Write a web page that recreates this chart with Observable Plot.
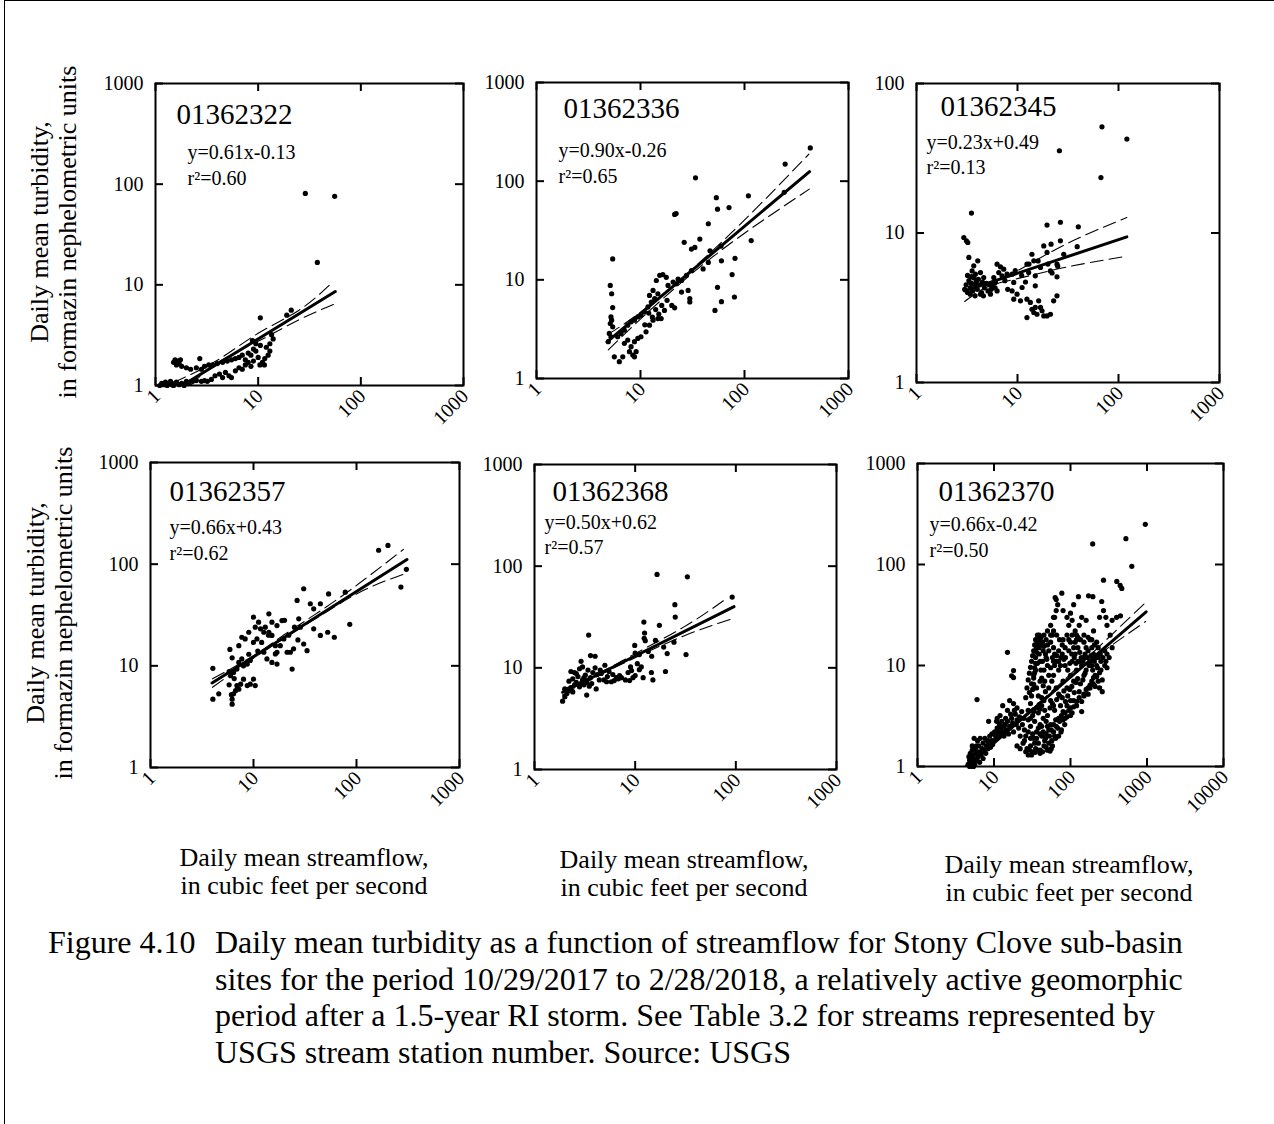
<!DOCTYPE html>
<html><head><meta charset="utf-8">
<script src="https://cdn.jsdelivr.net/npm/d3@7"></script>
<script src="https://cdn.jsdelivr.net/npm/@observablehq/plot@0.6"></script>
<style>
html,body{margin:0;padding:0;background:#fff;}
#page{position:relative;width:1274px;height:1124px;overflow:hidden;font-family:"Liberation Serif","Times New Roman",serif;color:#000;background:#fff;}
.border{position:absolute;left:4px;top:0;width:1270px;height:1124px;border-left:1.5px solid #000;border-top:1.5px solid #000;box-sizing:border-box;}
.ytitle{position:absolute;transform:translate(-50%,-50%) rotate(-90deg);white-space:nowrap;text-align:center;font-size:26px;line-height:28px;}
.xtitle{position:absolute;transform:translate(-50%,-50%);white-space:nowrap;text-align:center;font-size:26px;line-height:28px;}
.figlabel{position:absolute;left:48px;top:924px;font-size:32px;line-height:36.7px;white-space:nowrap;}
.captext{position:absolute;left:215px;top:924px;font-size:32px;line-height:36.7px;white-space:nowrap;}
</style>
</head><body>
<div id="page"><div class="border"></div></div>
<script>
// ---------- data ----------
const stations = ["01362322","01362336","01362345","01362357","01362368","01362370"];
const equations = ["y=0.61x-0.13","y=0.90x-0.26","y=0.23x+0.49","y=0.66x+0.43","y=0.50x+0.62","y=0.66x-0.42"];
const rSquared = ["r\u00B2=0.60","r\u00B2=0.65","r\u00B2=0.13","r\u00B2=0.62","r\u00B2=0.57","r\u00B2=0.50"];
const ticks100 = [1,10,100];
const ticks1000 = [1,10,100,1000];
const ticks10000 = [1,10,100,1000,10000];
const yTitle = ["Daily mean turbidity,","in formazin nephelometric units"];
const xTitle = ["Daily mean streamflow,","in cubic feet per second"];
const figLabel = "Figure 4.10";
const captionLines = [
  "Daily mean turbidity as a function of streamflow for Stony Clove sub-basin",
  "sites for the period 10/29/2017 to 2/28/2018, a relatively active geomorphic",
  "period after a 1.5-year RI storm. See Table 3.2 for streams represented by",
  "USGS stream station number. Source: USGS"
];

// points: [streamflow, turbidity]
const pts01362322 = [[1.1,1.0],[1.15,1.05],[1.2,1.02],[1.25,1.08],[1.3,1.0],[1.35,1.05],[1.4,1.1],[1.45,1.02],[1.5,1.0],[1.55,1.05],[1.6,1.08],[1.7,1.02],[1.8,1.05],[1.9,1.0],[2.0,1.1],[2.1,1.05],[2.3,1.1],[2.5,1.12],[2.8,1.1],[3.0,1.12],[3.2,1.1],[3.5,1.15],
[1.5,1.7],[1.55,1.8],[1.6,1.6],[1.65,1.75],[1.7,1.65],[1.75,1.8],[1.8,1.55],[2.0,1.5],[2.2,1.45],[2.5,1.5],[2.7,1.85],[2.8,1.45],[3.0,1.55],[3.3,1.6],[3.6,1.6],[4.0,1.65],[4.5,1.7],[5.0,1.75],[5.5,1.8],[6.0,1.85],
[3.8,1.25],[4.2,1.3],[4.5,1.2],[4.8,1.35],[5.2,1.25],[5.5,1.2],[6.0,1.4],[6.5,1.5],[7.0,1.45],[7.5,1.6],[8.0,1.7],[8.5,1.55],[9.0,1.75],
[6.5,1.9],[7,2.0],[7.5,1.8],[8,2.1],[8.5,2.0],[9,2.3],[9.5,2.2],[10,1.9],[10.5,2.5],[11,1.7],[11.5,1.6],[12,2.4],[12.5,2.0],[13,2.6],[13,2.2],[13.5,3.2],[14,2.9],[10.4,1.6],[11.6,1.85],[9.5,2.6],[8.8,2.8],
[10.5,4.7],[19,5.0],[21,5.6],[28.8,81],[55.6,75.7],[37.7,16.7]];
const pts01362336 = [[5.4,16.3],[5.12,8.77],[5.28,7.23],[5.4,5.23],[5.2,4.21],[5.28,3.9],[5.12,3.61],[5.4,3.34],[5.01,2.86],[4.9,2.36],[5.2,2.65],[5.6,1.66],[6.26,1.48],[6.75,1.66],[7.83,1.87],[8.43,1.73],[9.08,1.87],[8.75,1.66],
[6.03,2.65],[6.5,2.86],[7.0,3.09],[7.54,3.47],[8.12,3.75],[8.75,3.9],[9.42,4.21],[10.1,4.37],[10.9,4.72],[11.8,5.31],[12.7,5.96],[13.7,6.44],
[7.0,2.27],[7.54,2.45],[8.12,2.1],[8.75,2.36],[9.42,2.55],[10.1,2.65],[11.3,2.97],[12.2,3.47],[13.2,3.9],[14.7,4.05],[15.8,4.05],
[12.2,6.95],[13.2,7.81],[14.2,9.84],[15.3,11.1],[16.4,11.3],[17.7,10.6],[14.7,7.23],[18.4,8.77],[20.6,9.48],[23,10.2],[17,4.9],[21.3,5.2],
[22.1,9.12],[24.8,9.84],[27.7,11.1],[30.9,12.4],[24.8,7.52],[28.7,7.81],[29.8,6.44],[29.8,5.96],[21.3,46],[22,47],[26.3,24],[30.9,20.5],[33.3,21.3],[37.2,25.9],
[33.8,108],[44.9,37],[46.6,19.7],[53.6,68],[55,52],[71,54],[109,71],[116,25],[246,149],[52,4.9],[60,6],[60,15.6],[55,8.4],[76,11.3],[81,16.5],[80,6.7],[40,12.9],[44.9,15],[59.5,22],[241,77],[429,217],
[12,4.6],[14,5.0],[16,5.5],[18,6.2],[20,5.5],[15,4.5],[11,3.5],[13,4.2]];
const pts01362345 = [[3.5,13.6],[2.94,9.33],[3.12,8.87],[3.22,8.64],[3.3,6.86],[4.04,6.51],[3.69,6.03],[3.55,5.58],[3.83,5.3],[4.3,5.44],[4.63,5.04],
[3.0,4.2],[3.1,4.5],[3.2,4.0],[3.3,4.8],[3.4,4.3],[3.5,4.6],[3.6,4.1],[3.7,5.0],[3.8,4.4],[3.9,4.7],[4.0,4.2],[4.1,4.9],[4.2,4.5],[4.4,4.0],[4.5,4.7],[4.7,4.3],[4.9,4.6],[5.1,4.1],[5.3,4.5],[3.2,5.2],[3.5,5.1],[3.4,3.9],[3.8,3.8],[4.3,3.9],[4.6,3.8],[5.5,4.2],[5.8,4.6],[6.0,4.3],
[6.28,6.19],[6.78,5.94],[7.31,5.73],[6.52,5.44],[7.03,5.17],[7.88,5.3],[5.82,5.04],[6.04,4.67],[5.6,4.32],[6.28,4.1],[5.4,3.9],[8.84,5.3],[9.18,4.67],[8.84,4.1],[9.18,3.61],[10.7,3.52],[11.1,4.32],[9.9,3.9],
[12.4,6.19],[12.9,5.44],[13.9,7.21],[14.5,6.51],[15,5.17],[15,4.43],[16.9,5.88],[12.4,3.61],[13.4,3.43],[13.9,3.09],[15,3.18],[16.2,3.52],[16.9,3.18],[17.5,3.02],[18.2,2.79],[12.4,2.72],[14.5,2.94],[19.6,2.79],[21.2,2.86],[22.8,3.52],[24.6,3.8],[15.6,2.86],
[18.2,8.2],[19.6,7.41],[21.5,8.42],[19.6,11.3],[26.6,11.8],[26.6,8.87],[28.7,7.21],[24.6,6.19],[21.2,5.58],[24.6,5.09],[40,11],[39,8.1],[26,35.5],[68.6,51.3],[67,23.5],[121,42.5],
[7.5,4.8],[8,4.2],[9.5,5.6],[11,5.2],[12,4.7],[13,6.2],[16,6.5],[20,6.2],[22,5.4],[25,6.0]];
const pts01362357 = [[6.2,4.2],[6.2,4.7],[6.4,5.3],[6.7,5.7],[6.9,6.4],[7.2,5.9],[7.5,6.6],[8.0,7.4],[8.7,6.4],[9.3,6.6],[10.4,6.4],[10.0,7.4],[6.0,8.0],[6.4,8.6],[6.9,9.3],[7.2,10.8],[7.7,11.7],[8.0,10],[8.7,10.4],[9.3,11.3],
[7.2,15.8],[7.7,19.1],[8.3,18.4],[9.0,21.4],[10,30.1],[10.4,24],[11.2,26.9],[11.7,23.1],[10.8,18.4],[12.6,21.4],[13.0,24],[14.1,32.5],[15.1,26.9],[16.9,24.9],[14.1,21.4],[15.1,19.9],[16.3,15.8],[16.9,13.6],[12.6,13.6],[13.5,11.7],[15.1,10.8],[16.9,10.4],[16.3,13.1],[18.2,15.8],[19.7,18.4],[18.9,27.9],[21.2,13.6],[23.7,9.3],[22.8,13.6],[24.5,14.7],
[26.5,44],[30.7,57.3],[27.5,29],[28.5,24],[30.7,16.4],[33.1,14.1],[35.6,40.8],[38.4,36.4],[44.6,40.8],[38.4,23.1],[44.6,19.9],[52.5,21.4],[60.9,19.1],[53.6,51],[77.8,53],[86,25.6],[164,137],[202,153],[305,89],[270,59.5],
[5.9,14.5],[4.03,9.46],[4.03,4.7],[4.6,5.3],[6.2,12],[5.8,8.8],[6.5,7.5],[7,6],[6.1,5.2],[5.8,6.5],[20,28],[22,20],[25,24],[27,18],[12,17],[14,20],[10,17],[9,13],[11,14]];
const pts01362368 = [[1.9,4.7],[2.0,5.2],[2.1,5.6],[2.2,6.0],[2.3,6.4],[2.4,5.8],[2.5,6.8],[2.6,7.2],[2.5,9.0],[2.7,8.2],[2.8,6.5],[2.9,7.0],[3.0,7.6],[3.1,6.8],[3.2,8.5],[3.3,7.2],[3.5,6.6],[3.3,5.4],[3.6,8.0],[3.8,9.0],[4.0,10.0],[4.2,8.6],[4.4,7.6],[4.6,8.8],[4.9,7.6],[5.3,8.2],[5.8,7.3],[6.2,7.5],[6.8,7.8],[7.3,8.0],[8.0,7.6],[8.8,7.5],[9.5,8.0],[10,8.4],
[3.45,21],[3.6,13.2],[4.0,13.0],[2.9,11.6],[2.3,9.2],[2.6,8.8],[2.2,7.4],[2.0,6.2],[2.4,7.8],[2.8,9.8],[3.0,10.2],[3.4,9.5],[3.1,8.0],[3.7,7.0],[4.1,6.2],[4.5,9.5],[5.0,10.6],[5.5,9.2],[6.0,8.6],[7.0,8.4],
[9.9,16.6],[9.0,10.2],[10.5,11],[11,9.6],[11.5,10.2],[12.2,28.2],[12.4,22],[12.3,19.5],[12.6,18.5],[12.0,8.0],[14.5,9.0],[15,7.6],[14.6,13],[15.9,18.6],[16.5,83],[17.4,26.2],[19.2,16],[20,9.2],[20.8,13.8],[24.8,41.8],[25,31.6],[24.3,17.9],[32,13.5],[33,78.5],[92,49.7],
[8.5,9.0],[9.2,9.4],[6.5,8.0],[5.2,7.3],[10,14],[11,13.5],[13.5,14.5]];
const pts01362370 = [[4.6,1.05],[4.8,1.15],[5.0,1.25],[5.1,1.1],[5.3,1.3],[5.5,1.2],[5.6,1.05],[5.8,1.35],[6.0,1.15],[6.2,1.25],[6.4,1.4],[6.5,1.1],[6.8,1.3],[7.0,1.5],[7.2,1.2],[7.5,1.45],[7.8,1.35],[8.0,1.6],[8.3,1.5],[8.6,1.7],[9.0,1.55],[9.3,1.8],[9.6,1.65],[5.2,1.45],[4.9,1.35],[5.9,1.6],[6.1,1.8],[5.5,1.9],[4.7,1.25],[5.4,1.0],
[10,1.8],[10.5,2.0],[11,1.9],[11.5,2.2],[12,2.1],[12.5,2.4],[13,2.2],[13.5,2.0],[14,2.6],[14.5,2.3],[15,2.8],[15.5,2.1],[16,2.5],[17,3.0],[17.5,2.7],[18,2.2],[19,3.3],[20,2.9],[10.8,2.8],[12,3.2],[15,3.6],[18,4.2],[20,3.8],[21,2.4],[22,2.0],[23,3.5],
[6,4.6],[15,13.5],[18,8.9],[18,7.6],[11,3.0],[13,4.0],[16,4.5],[8.5,2.8],
[25,1.8],[27,1.5],[28,1.3],[30,1.6],[32,1.4],[33,1.9],[35,1.5],[36,2.2],[38,1.7],[40,1.35],[42,2.0],[45,1.6],[47,1.9],[50,1.45],[52,2.3],[55,2.6],[57,1.8],[60,2.2],[62,2.0],[30,2.5],[34,2.8],[40,2.6],[44,3.0],[48,2.8],[25,2.3],[28,2.9],[32,3.2],[38,3.4],[58,1.6],
[28,3.6],[30,4.2],[31,5.0],[32,5.8],[33,6.5],[33,7.5],[34,8.5],[34,9.5],[35,10.5],[35,12],[36,13.5],[36,15],[37,17],[38,19],[39,20],[40,18],[42,16],[44,14],[43,11],[45,9],[46,7],[47,5.5],[45,4.5],[42,4.0],[40,3.7],[38,5],[36,6],[40,7],[48,12],[50,10],[52,8],
[45,20],[48,18],[50,16],[52,14],[55,17],[58,20],[60,15],[62,13],[65,11],[50,22],[55,25],[60,30],[65,35],
[62,30],[65,45],[68,40],[63,47],[77,52],[80,35],[90,30],[95,25],[100,33],[105,28],[110,40],[115,22],[120,18],[127,48],[130,25],[140,30],[150,20],[160,28],[172,49],[180,18],[190,15],[196,48],[200,22],[220,17],[256,43],[270,35],[290,30],[300,25],[350,28],[400,30],[450,31],[270,70],[403,68],[446,62],[468,58],[633,96],[195,160],[530,180],[950,250],[240,30],[330,20],
[60,8],[65,6],[70,9],[72,5],[75,12],[80,7],[85,10],[90,6],[95,14],[100,8],[105,11],[110,7],[115,13],[120,9],[125,15],[130,11],[140,10],[150,12],[160,9],[170,14],[180,11],[190,10],[200,13],[210,8],[220,10],[230,7],[240,6],[250,9],[260,5.5],[280,14],[300,9.5],[320,12],[200,6.5],[170,6],[150,5],[130,5.5],[110,4.5],[90,4],[80,3.5],[70,3],[60,4],[100,3.2],[120,4],[140,3.5],[65,2.5],[75,2.2],[85,3],[55,4.5],[52,6],[57,7],[60,11],[70,14],[80,18],[90,20],[100,17],[110,15],[120,20],[100,4.5],[150,8],[160,15],[180,6],[230,12],[250,11],[280,10],[350,15],[300,13],
[34.5,1.38],[40,1.45],[54,1.42],[17,7.9],
[20,1.6],[22,1.5],[24,1.7],[26,2.0],[28,2.2],[30,1.9],[32,2.1],[34,1.7],[36,1.9],[38,2.4],[40,2.1],[42,2.5],[44,2.2],[46,1.8],[48,2.1],[50,2.5],[53,2.0],[56,2.3],[60,2.6],[64,2.9],[68,2.4],[72,2.8],[76,3.2],[80,2.9],[85,3.4],[90,3.1],[95,3.6],[100,3.8],[105,3.4],[110,3.9],[120,4.4],[130,4.8],[140,4.4],[150,5.2],[160,5.8],[170,5.2],[180,6.4],[190,7.0],[200,7.6],[210,6.2],[220,7.8],[240,8.5],[260,7.2],
[30,3.0],[33,3.5],[36,3.8],[39,4.1],[42,4.8],[46,3.6],[50,3.2],[54,3.8],[58,4.2],[62,3.6],[66,4.6],[70,5.2],[74,4.0],[78,4.8],[82,5.6],[86,4.4],[92,5.0],[98,5.8],[104,6.2],[112,5.4],[118,6.8],[124,7.4],[135,6.6],[145,7.2],[155,8.4],
[26,4.8],[27,6.0],[28,7.2],[29,8.4],[30,9.6],[31,11],[32,12.5],[33,14],[34,16],[35,18],[37,20],[38,16.5],[39,13],[40,11],[41,9],[42,7.5],[44,6.3],[29,5.4],[31,6.6],[33,8.0],[35,9.0],[37,10.5],[39,15],[41,19],[43,17],[45,15.5],[47,13],[49,11.5],
[55,9.5],[58,12],[62,10],[66,12.5],[70,11],[74,10],[78,13],[82,11.5],[86,12],[92,9],[98,10.5],[104,13],[112,12],[118,10.5],[125,11],[132,13.5],[138,12],[145,11],[155,13],[165,12],[175,10],[185,12.5],[195,9],[205,11],[215,12],[225,9.5],[245,13],[265,12],[290,11],
[55,20],[60,22],[66,20],[72,18],[78,16],[85,15],[95,18],[105,20],[115,17],[125,19],[135,18],[150,17],[170,19],[190,18],[205,16],[230,15],
[5.2,1.6],[5.7,1.5],[6.3,1.6],[6.6,1.9],[7.2,1.7],[7.6,1.9],[8.2,1.8],[8.8,2.0],[9.4,2.1],[10.2,2.2],[11,2.4],[11.8,2.6],[12.6,2.8],[13.4,2.5],[14.2,3.0],[16.5,3.3],[18.5,3.6],[19.5,2.6],[21.5,3.1],[23.5,2.6],[24.5,3.0],[4.8,1.0],[5.0,1.05],[5.3,1.0],
[26,1.4],[29,1.45],[31,1.3],[37,1.45],[43,1.4],[48,1.55],[52,1.7],[56,1.5],[64,1.9],[70,2.0],[76,2.3],[84,2.6]];

// regression lines and confidence bands
const fit01362322 = [[1.82,1.0],[56.4,8.57]];
const up01362322 = [[1.5,1.07],[4,1.78],[10,3.3],[25,5.6],[53,10.6]];
const lo01362322 = [[2.2,1.0],[4,1.68],[10,2.75],[25,4.5],[56,6.46]];
const fit01362336 = [[4.77,2.35],[422,125]];
const up01362336 = [[4.9,2.8],[10,4.7],[25,10.4],[60,24],[150,62],[416,188]];
const lo01362336 = [[4.9,1.95],[10,4.0],[25,9.5],[60,20],[150,40],[420,83]];
const fit01362345 = [[2.98,4.1],[121,9.42]];
const up01362345 = [[3,4.6],[5,4.6],[10,5.6],[30,8.4],[121,12.7]];
const lo01362345 = [[3,3.48],[5,4.35],[10,4.95],[30,5.9],[121,7.0]];
const fit01362357 = [[3.96,6.78],[309,111]];
const up01362357 = [[4,7.45],[10,12.6],[20,20.3],[50,37.5],[120,71],[286,140]];
const lo01362357 = [[4,6.15],[10,11.9],[20,18.8],[50,33.5],[120,56],[290,80]];
const fit01362368 = [[1.9,5.75],[96,40]];
const up01362368 = [[1.9,6.1],[5,9.5],[10,13.8],[30,25],[76,46]];
const lo01362368 = [[1.9,5.4],[5,9.0],[10,12.6],[30,20.5],[92,30.4]];
const fit01362370 = [[4.4,1.0],[975,34]];
const up01362370 = [[4.2,1.02],[50,5.1],[200,13.6],[960,42]];
const lo01362370 = [[4.6,1.0],[50,4.9],[200,11.7],[960,27.3]];

// ---------- layout ----------
const panels = [
  {L:155,T:83,R:463,B:385, xt:ticks1000, yt:ticks1000, pts:pts01362322, fit:fit01362322, up:up01362322, lo:lo01362322, lab:[21,40], eq:[32,75], r2:[32,101]},
  {L:536,T:82,R:848,B:378, xt:ticks1000, yt:ticks1000, pts:pts01362336, fit:fit01362336, up:up01362336, lo:lo01362336, lab:[27,35], eq:[22,74], r2:[22,100]},
  {L:916,T:83,R:1219,B:382, xt:ticks1000, yt:ticks100, pts:pts01362345, fit:fit01362345, up:up01362345, lo:lo01362345, lab:[24,32], eq:[10,65], r2:[10,90]},
  {L:150,T:462,R:459,B:767, xt:ticks1000, yt:ticks1000, pts:pts01362357, fit:fit01362357, up:up01362357, lo:lo01362357, lab:[19,38], eq:[19,71], r2:[19,97]},
  {L:534,T:464,R:836,B:769, xt:ticks1000, yt:ticks1000, pts:pts01362368, fit:fit01362368, up:up01362368, lo:lo01362368, lab:[18,36], eq:[10,64], r2:[10,89]},
  {L:917,T:463,R:1223,B:766, xt:ticks10000, yt:ticks1000, pts:pts01362370, fit:fit01362370, up:up01362370, lo:lo01362370, lab:[21,37], eq:[12,67], r2:[12,93]}
];

const page = document.getElementById("page");
const M = {top:20, right:20, bottom:70, left:70};
const X = d => d[0], Y = d => d[1];
const FONT = "'Liberation Serif','Times New Roman',serif";

panels.forEach((p, i) => {
  const w = p.R - p.L, h = p.B - p.T;
  const xmax = p.xt[p.xt.length-1], ymax = p.yt[p.yt.length-1];
  const svg = Plot.plot({
    width: w + M.left + M.right,
    height: h + M.top + M.bottom,
    marginLeft: M.left, marginRight: M.right, marginTop: M.top, marginBottom: M.bottom,
    x: {type: "log", domain: [1, xmax], axis: null},
    y: {type: "log", domain: [1, ymax], axis: null},
    style: {fontFamily: FONT, background: "transparent", overflow: "visible", color: "#000"},
    marks: [
      Plot.dot(p.pts, {x: X, y: Y, r: 2.6, fill: "#000", stroke: "none"}),
      Plot.line(p.up, {x: X, y: Y, stroke: "#000", strokeWidth: 1.1, strokeDasharray: "13,6", curve: "natural", clip: true}),
      Plot.line(p.lo, {x: X, y: Y, stroke: "#000", strokeWidth: 1.1, strokeDasharray: "13,6", curve: "natural", clip: true}),
      Plot.line(p.fit, {x: X, y: Y, stroke: "#000", strokeWidth: 3, clip: true}),
      Plot.frame({stroke: "#000", strokeWidth: 2}),
      Plot.tickX(p.xt, {x: d => d, insetTop: h - 8, stroke: "#000", strokeWidth: 2}),
      Plot.tickX(p.xt, {x: d => d, insetBottom: h - 8, stroke: "#000", strokeWidth: 2}),
      Plot.tickY(p.yt, {y: d => d, insetRight: w - 8, stroke: "#000", strokeWidth: 2}),
      Plot.tickY(p.yt, {y: d => d, insetLeft: w - 8, stroke: "#000", strokeWidth: 2}),
      Plot.text(p.yt, {y: d => d, text: d => String(d), frameAnchor: "left", textAnchor: "end", dx: -12, fontSize: 20, fontFamily: FONT, fill: "#000"}),
      Plot.text(p.xt, {x: d => d, text: d => String(d), frameAnchor: "bottom", rotate: -45, textAnchor: "end", dx: 6, dy: 12, fontSize: 20, fontFamily: FONT, fill: "#000"}),
      Plot.text([stations[i]], {text: d => d, frameAnchor: "top-left", textAnchor: "start", lineAnchor: "bottom", dx: p.lab[0], dy: p.lab[1], fontSize: 29, fontFamily: FONT, fill: "#000"}),
      Plot.text([equations[i]], {text: d => d, frameAnchor: "top-left", textAnchor: "start", lineAnchor: "bottom", dx: p.eq[0], dy: p.eq[1], fontSize: 20, fontFamily: FONT, fill: "#000"}),
      Plot.text([rSquared[i]], {text: d => d, frameAnchor: "top-left", textAnchor: "start", lineAnchor: "bottom", dx: p.r2[0], dy: p.r2[1], fontSize: 20, fontFamily: FONT, fill: "#000"})
    ]
  });
  svg.style.position = "absolute";
  svg.style.left = (p.L - M.left) + "px";
  svg.style.top = (p.T - M.top) + "px";
  page.appendChild(svg);
});

// y-axis titles
[[54,232],[50,613]].forEach(([cx,cy]) => {
  const d = document.createElement("div");
  d.className = "ytitle";
  d.style.left = cx + "px"; d.style.top = cy + "px";
  d.innerHTML = yTitle.join("<br>");
  page.appendChild(d);
});
// x-axis titles
[[304,872],[684,874],[1069,879]].forEach(([cx,cy]) => {
  const d = document.createElement("div");
  d.className = "xtitle";
  d.style.left = cx + "px"; d.style.top = cy + "px";
  d.innerHTML = xTitle.join("<br>");
  page.appendChild(d);
});
// caption
const fl = document.createElement("div");
fl.className = "figlabel"; fl.textContent = figLabel; page.appendChild(fl);
const ct = document.createElement("div");
ct.className = "captext"; ct.innerHTML = captionLines.join("<br>"); page.appendChild(ct);
</script>
</body></html>
